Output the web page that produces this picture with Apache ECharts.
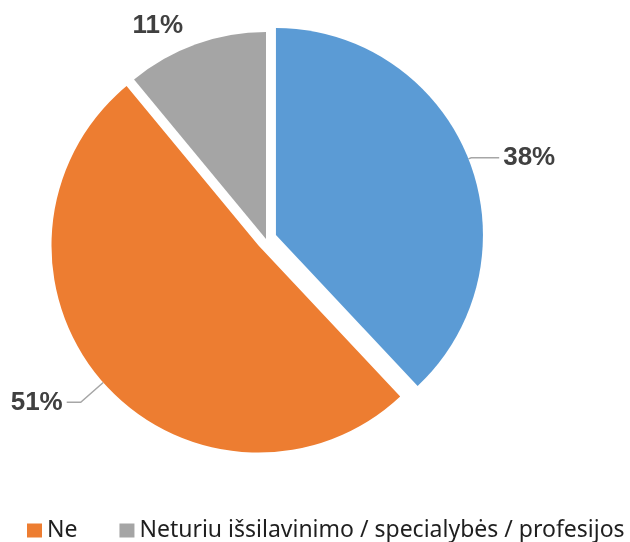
<!DOCTYPE html>
<html>
<head>
<meta charset="utf-8">
<script src="https://cdn.jsdelivr.net/npm/echarts@6/dist/echarts.min.js"></script>
<style>
	html, body { margin: 0; padding: 0; background: #fff; }
	#chart { width: 630px; height: 542px; }
</style>
</head>
<body>
<div id="chart"></div>
<script>
	// atsakymai (names) and shares in %
	var names = ['Taip', 'Ne', 'Neturiu išsilavinimo / specialybės / profesijos'];
	var values = [38, 51, 11];
	var colors = ['#5B9BD5', '#ED7D31', '#A5A5A5'];
	// how far each slice is pulled out (px)
	var explode = [10.7, 10, 0];

	var cx = 266, cy = 239, R = 207;

	// label line settings per slice
	var labelCfg = [
		{ show: true, length: 3, length2: 28 },
		{ show: true, length: 30, length2: 14 },
		{ show: false, length: 20, length2: 2 }
	];

	var total = values.reduce(function(a, b) { return a + b; }, 0);
	var series = [];
	var acc = 0;
	for (var i = 0; i < values.length; i++) {
		var mid = (acc + values[i] / 2) / total * 2 * Math.PI; // clockwise from top
		acc += values[i];
		var dx = Math.sin(mid) * explode[i];
		var dy = -Math.cos(mid) * explode[i];
		var data = [];
		for (var j = 0; j < values.length; j++) {
			if (j === i) {
				data.push({
					name: names[j],
					value: values[j],
					itemStyle: { color: colors[j] },
					labelLine: {
						show: labelCfg[j].show,
						length: labelCfg[j].length,
						length2: labelCfg[j].length2,
						lineStyle: { color: '#A6A6A6', width: 1.5 }
					}
				});
			} else {
				data.push({
					name: names[j],
					value: values[j],
					itemStyle: { color: 'rgba(0,0,0,0)' },
					label: { show: false },
					labelLine: { show: false }
				});
			}
		}
		series.push({
			type: 'pie',
			name: 's' + i,
			center: [cx + dx, cy + dy],
			radius: R,
			startAngle: 90,
			clockwise: true,
			avoidLabelOverlap: false,
			silent: true,
			animation: false,
			label: {
				show: true,
				position: 'outside',
				formatter: '{c}%',
				fontFamily: 'Liberation Sans, Arial',
				fontWeight: 'bold',
				fontSize: 26,
				color: '#404040',
				distanceToLabelLine: 4
			},
			data: data
		});
	}

	var myChart = echarts.init(document.getElementById('chart'));
	myChart.setOption({
		color: colors,
		legend: {
			left: 22,
			top: 514,
			itemWidth: 15,
			itemHeight: 14,
			itemGap: 42,
			itemTextGap: 7,
			icon: 'rect',
			textStyle: { fontFamily: 'Noto Sans', fontSize: 23, color: '#1f1f1f' },
			data: [
				{ name: names[1], itemStyle: { color: colors[1] } },
				{ name: names[2], itemStyle: { color: colors[2] } }
			]
		},
		series: series
	});
</script>
</body>
</html>
